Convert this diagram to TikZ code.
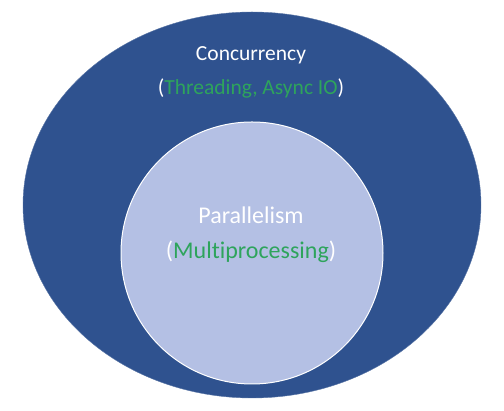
\documentclass[tikz,border=0pt]{standalone}
\usepackage{fontspec}
\setmainfont{Carlito}[Ligatures=NoCommon]
\usetikzlibrary{shapes.geometric}
\definecolor{outerblue}{RGB}{47,82,143}
\definecolor{innerblue}{RGB}{180,192,228}
\definecolor{labelgreen}{RGB}{46,164,92}
\tikzset{
  outerlabel/.style={text=white, font=\fontsize{21.5}{24}\selectfont, inner sep=0pt},
  innerlabel/.style={text=white, font=\fontsize{24}{28}\selectfont, inner sep=0pt}
}
\newcommand{\grn}[1]{\textcolor{labelgreen}{#1}}

\begin{document}
\begin{tikzpicture}[x=1pt, y=1pt]
      \useasboundingbox (0,0) rectangle (504,411);
      % outer set
      \node[ellipse, fill=outerblue, draw=outerblue!80!white, inner sep=0pt,
            minimum width=458pt, minimum height=386pt] (conc) at (252,206) {};
      % inner set
      \node[circle, fill=innerblue, draw=white, line width=1pt, inner sep=0pt,
            minimum size=262pt] (par) at (252,158) {};
      % labels
      \node[outerlabel] (conctitle) at (251,356) {Concurrency};
      \node[outerlabel] (concsub) at (251,323) {(\grn{Threading, Async IO})};
      \node[innerlabel] (partitle) at (251,196) {Parallelism};
      \node[innerlabel] (parsub) at (251,159) {(\grn{Multiprocessing})};
    \end{tikzpicture}
\end{document}
